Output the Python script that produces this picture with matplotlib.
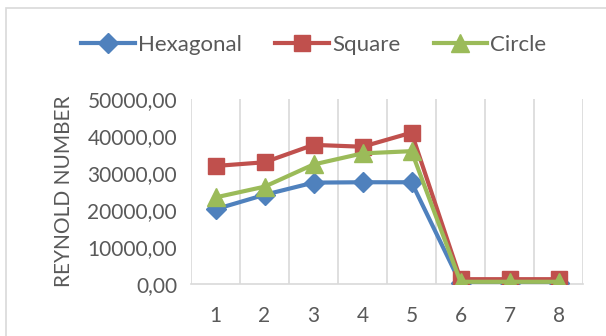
import numpy as np
import matplotlib
matplotlib.use("Agg")
import matplotlib.pyplot as plt
from matplotlib.ticker import FuncFormatter

categories = [1, 2, 3, 4, 5, 6, 7, 8]
hexagonal = [20200, 24100, 27400, 27500, 27500, 200, 200, 200]
square = [31900, 32900, 37600, 37100, 40900, 1300, 1300, 1300]
circle = [23400, 26300, 32300, 35300, 35900, 600, 600, 600]
y_ticks = [0, 10000, 20000, 30000, 40000, 50000]

COLORS = {
    "Hexagonal": "#4F81BD",
    "Square": "#C0504D",
    "Circle": "#9BBB59",
}
TEXT = "#595959"
GRID = "#D9D9D9"

plt.rcParams["font.family"] = ["Lato", "DejaVu Sans"]

fig = plt.figure(figsize=(6.06, 3.36), dpi=100)
ax = fig.add_axes([191 / 606, 1 - 284 / 336, 392 / 606, 185 / 336])

x = np.arange(len(categories))
ax.plot(x, hexagonal, color=COLORS["Hexagonal"], lw=3, marker="D", ms=10,
        label="Hexagonal", zorder=3)
ax.plot(x, square, color=COLORS["Square"], lw=3, marker="s", ms=12,
        label="Square", zorder=3)
ax.plot(x, circle, color=COLORS["Circle"], lw=3, marker="^", ms=13,
        label="Circle", zorder=4)

ax.set_xlim(-0.5, len(categories) - 0.5)
ax.set_ylim(0, 50000)
ax.set_yticks(y_ticks)
ax.yaxis.set_major_formatter(FuncFormatter(lambda v, p: f"{v:.2f}".replace(".", ",")))
ax.set_xticks(x)
ax.set_xticklabels([str(c) for c in categories])

# vertical gridlines on category boundaries, Excel style
for b in np.arange(-0.5, len(categories) + 0.5, 1):
    ax.axvline(b, color=GRID, lw=1.2, zorder=0)

for s in ["top", "right", "left"]:
    ax.spines[s].set_visible(False)
ax.spines["bottom"].set_color(GRID)
ax.spines["bottom"].set_linewidth(1.2)
ax.tick_params(axis="both", length=0, labelsize=15, labelcolor=TEXT)
ax.tick_params(axis="x", pad=16)
ax.tick_params(axis="y", pad=10)

ax.set_ylabel("REYNOLD NUMBER", fontsize=15, color=TEXT, labelpad=10)

fig.legend(loc="center", bbox_to_anchor=(0.518, 1 - 45 / 336), ncol=3,
           frameon=False, fontsize=16, labelcolor=TEXT, handlelength=2.4,
           columnspacing=1.5, handletextpad=0.15)

# chart-area border (only top/left visible in the crop)
fig.add_artist(plt.Rectangle((6 / 606, -0.1), 1.2, 1 - 8 / 336 + 0.1,
                             transform=fig.transFigure, fill=False,
                             edgecolor=GRID, lw=1.2))

fig.savefig("out.png", dpi=100)
